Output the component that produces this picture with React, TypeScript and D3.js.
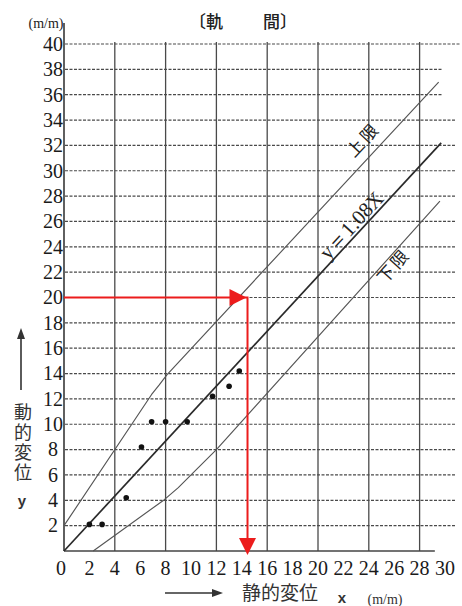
import React from 'react';
import * as d3 from 'd3';

const W = 462;
const H = 606;

// tick labels and grid values
const xTickLabels = [0, 2, 4, 6, 8, 10, 12, 14, 16, 18, 20, 22, 24, 26, 28, 30];
const yTickLabels = [2, 4, 6, 8, 10, 12, 14, 16, 18, 20, 22, 24, 26, 28, 30, 32, 34, 36, 38, 40];
const xGridValues = [4, 8, 12, 16, 20, 24, 28];

// measured points (static x, dynamic y)
const pointX = [2.0, 3.0, 4.9, 6.1, 6.9, 8.0, 9.7, 11.7, 13.0, 13.8];
const pointY = [2.1, 2.1, 4.2, 8.2, 10.2, 10.2, 10.2, 12.2, 13.0, 14.2];

// limit lines and centre line
const upperX = [0, 6.9, 7.5, 8.1, 29.5];
const upperY = [2.0, 12.35, 13.1, 13.9, 37.0];
const centerX = [0, 29.7];
const centerY = [0, 32.2];
const lowerX = [2.3, 7.9, 9.0, 10.2, 12.0, 29.6];
const lowerY = [0, 4.05, 5.0, 6.2, 8.0, 27.6];

// red reading guide
const readX = 14.45;
const readY = 20;

const titleLeft = '〔軌';
const titleRight = '間〕';
const upperLabel = '上限';
const centerLabel = 'y＝1.08X';
const lowerLabel = '下限';
const yAxisLabel = '動的変位';
const xAxisLabel = '静的変位';

const SERIF = '"Liberation Serif", "DejaVu Serif", serif';
const CJK = '"Noto Sans CJK JP", "Noto Sans CJK SC", sans-serif';
const SANS = '"Liberation Sans", Arial, sans-serif';

const x = d3.scaleLinear().domain([0, 30]).range([64, 445]);
const y = d3.scaleLinear().domain([0, 40]).range([551, 44]);

const zip = (xs: number[], ys: number[]) => xs.map((v, i) => [v, ys[i]] as [number, number]);

const lineGen = d3
  .line<[number, number]>()
  .x((d) => x(d[0]))
  .y((d) => y(d[1]))
  .curve(d3.curveLinear);

function labelTransform(xs: number[], ys: number[], at: number) {
  let i = 0;
  while (i < xs.length - 2 && at > xs[i + 1]) i++;
  const t = (at - xs[i]) / (xs[i + 1] - xs[i]);
  const vy = ys[i] + t * (ys[i + 1] - ys[i]);
  const px = x(at);
  const py = y(vy);
  const ang = (Math.atan2(y(ys[i + 1]) - y(ys[i]), x(xs[i + 1]) - x(xs[i])) * 180) / Math.PI;
  return `translate(${px},${py}) rotate(${ang})`;
}

export default function App() {
  const gridStroke = '#4a4a4a';
  const red = '#ec1c1c';
  const x0 = x(0);
  const y0 = y(0);
  const rx = x(readX);
  const ry = y(readY);
  const arrowLen = 17;
  const arrowHalf = 8.5;
  const hTip = rx - 1;
  const vTip = y0 + 4;

  return (
    <svg
      width={W}
      height={H}
      viewBox={`0 0 ${W} ${H}`}
      style={{ position: 'absolute', left: 0, top: 0, background: '#fff' }}
    >
      <rect x={0} y={0} width={W} height={H} fill="#fff" />

      {/* title */}
      <text x={223} y={28} textAnchor="end" fontFamily={CJK} fontSize={17} fontWeight={500} fill="#222">
        {titleLeft}
      </text>
      <text x={263} y={28} textAnchor="start" fontFamily={CJK} fontSize={17} fontWeight={500} fill="#222">
        {titleRight}
      </text>

      {/* unit top-left */}
      <text x={46} y={28} textAnchor="middle" fontFamily={SERIF} fontSize={14} fill="#222">
        (m/m)
      </text>

      {/* horizontal dashed gridlines */}
      {yTickLabels.map((v) => (
        <line
          key={'h' + v}
          x1={x0 + 1}
          x2={v === 40 ? 460 : v === 36 || v === 38 ? 443 : 456}
          y1={y(v)}
          y2={y(v)}
          stroke={gridStroke}
          strokeWidth={1.2}
          strokeDasharray="3,1.5"
        />
      ))}

      {/* vertical gridlines */}
      {xGridValues.map((v) => (
        <line
          key={'v' + v}
          x1={x(v)}
          x2={x(v)}
          y1={y0}
          y2={y(40) - 2}
          stroke={gridStroke}
          strokeWidth={1.3}
        />
      ))}

      {/* axes */}
      <line x1={x0} x2={x0} y1={y0} y2={23} stroke="#444" strokeWidth={1.7} />
      <line x1={x0} x2={x(29.2)} y1={y0} y2={y0} stroke="#444" strokeWidth={1.7} />

      {/* y tick labels */}
      {yTickLabels.map((v) => (
        <text
          key={'yl' + v}
          x={53}
          y={y(v)}
          dy="0.34em"
          textAnchor="middle"
          fontFamily={SERIF}
          fontSize={20}
          fill="#1a1a1a"
        >
          {v}
        </text>
      ))}

      {/* x tick labels */}
      {xTickLabels.map((v) => (
        <text
          key={'xl' + v}
          x={v === 0 ? x(0) - 3 : x(v)}
          y={568}
          dy="0.34em"
          textAnchor="middle"
          fontFamily={SERIF}
          fontSize={20}
          fill="#1a1a1a"
        >
          {v}
        </text>
      ))}

      {/* limit lines */}
      <path d={lineGen(zip(upperX, upperY)) || ''} fill="none" stroke="#555" strokeWidth={1.15} strokeLinejoin="round" />
      <path d={lineGen(zip(lowerX, lowerY)) || ''} fill="none" stroke="#555" strokeWidth={1.15} strokeLinejoin="round" />
      <path d={lineGen(zip(centerX, centerY)) || ''} fill="none" stroke="#2a2a2a" strokeWidth={1.7} />

      {/* line labels */}
      <g transform={labelTransform(upperX, upperY, 24.5)}>
        <text textAnchor="middle" dy={-10} fontFamily={CJK} fontSize={17} letterSpacing={3} fill="#222">
          {upperLabel}
        </text>
      </g>
      <g transform={labelTransform(centerX, centerY, 23.2)}>
        <text textAnchor="middle" dy={-3} fontFamily={SERIF} fontSize={21} fill="#222">
          {centerLabel}
        </text>
      </g>
      <g transform={labelTransform(lowerX, lowerY, 25.45)}>
        <text textAnchor="middle" dy={15} fontFamily={CJK} fontSize={17} letterSpacing={3} fill="#222">
          {lowerLabel}
        </text>
      </g>

      {/* data points */}
      {pointX.map((v, i) => (
        <circle key={'p' + i} cx={x(v)} cy={y(pointY[i])} r={2.8} fill="#111" />
      ))}

      {/* red reading guide */}
      <path
        d={`M${x0},${ry} H${rx} V${vTip - arrowLen + 2}`}
        fill="none"
        stroke={red}
        strokeWidth={2}
      />
      <polygon
        points={`${hTip},${ry} ${hTip - arrowLen},${ry - arrowHalf} ${hTip - arrowLen},${ry + arrowHalf}`}
        fill={red}
      />
      <polygon
        points={`${rx},${vTip} ${rx - arrowHalf},${vTip - arrowLen} ${rx + arrowHalf},${vTip - arrowLen}`}
        fill={red}
      />

      {/* y axis title */}
      <line x1={21} x2={21} y1={390} y2={336} stroke="#333" strokeWidth={1.6} />
      <polygon points="21,328 17,339 25,339" fill="#333" />
      <text
        x={23}
        y={403}
        fontFamily={CJK}
        fontSize={18}
        letterSpacing={2}
        fill="#333"
        style={{ writingMode: 'vertical-rl' as any }}
      >
        {yAxisLabel}
      </text>
      <text x={22} y={501} dy="0.3em" textAnchor="middle" fontFamily={SANS} fontSize={15} fontWeight={700} fill="#333">
        y
      </text>

      {/* x axis title */}
      <line x1={165} x2={214} y1={593} y2={593} stroke="#333" strokeWidth={1.6} />
      <polygon points="223,593 212,589 212,597" fill="#333" />
      <text x={242} y={593} dy="0.36em" textAnchor="start" fontFamily={CJK} fontSize={19} fill="#333">
        {xAxisLabel}
      </text>
      <text x={342} y={598} dy="0.3em" textAnchor="middle" fontFamily={SANS} fontSize={15} fontWeight={700} fill="#333">
        x
      </text>
      <text x={385} y={599} dy="0.34em" textAnchor="middle" fontFamily={SERIF} fontSize={14} fill="#333">
        (m/m)
      </text>
    </svg>
  );
}
